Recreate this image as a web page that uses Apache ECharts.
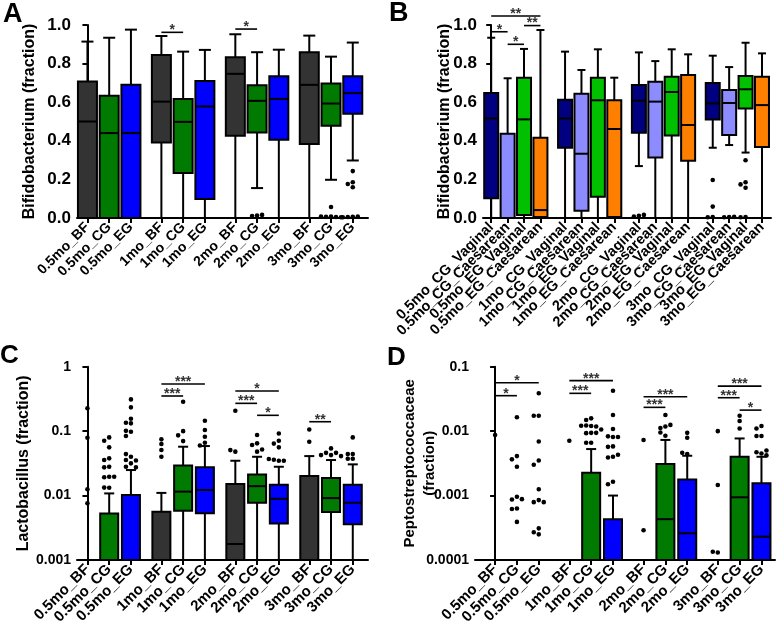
<!DOCTYPE html>
<html><head><meta charset="utf-8">
<script src="https://cdn.jsdelivr.net/npm/echarts@6/dist/echarts.min.js"></script>
<style>html,body{margin:0;padding:0;background:#fff}#c{width:777px;height:626px}</style>
</head><body><div id="c"></div>
<script>
// ---------------- DATA ----------------
const catsABCD = ['0.5mo_BF','0.5mo_CG','0.5mo_EG','1mo_BF','1mo_CG','1mo_EG','2mo_BF','2mo_CG','2mo_EG','3mo_BF','3mo_CG','3mo_EG'];
const catsB = ['0.5mo_CG_Vaginal','0.5mo_CG_Caesarean','0.5mo_EG_Vaginal','0.5mo_EG_Caesarean',
               '1mo_CG_Vaginal','1mo_CG_Caesarean','1mo_EG_Vaginal','1mo_EG_Caesarean',
               '2mo_CG_Vaginal','2mo_CG_Caesarean','2mo_EG_Vaginal','2mo_EG_Caesarean',
               '3mo_CG_Vaginal','3mo_CG_Caesarean','3mo_EG_Vaginal','3mo_EG_Caesarean'];
const ticksAB = [0, 0.2, 0.4, 0.6, 0.8, 1.0];

// box values: [min, Q1, median, Q3, max]
const boxA = [
  [0,0,0.50,0.707,0.914],[0,0,0.44,0.633,0.934],[0,0,0.44,0.69,0.976],
  [0,0.391,0.603,0.845,0.943],[0,0.233,0.498,0.617,0.862],[0,0.098,0.578,0.71,0.871],
  [0,0.426,0.747,0.833,0.952],[0.155,0.443,0.607,0.688,0.859],[0,0.405,0.617,0.734,0.872],
  [0,0.384,0.69,0.859,0.945],[0.198,0.478,0.593,0.697,0.836],[0.298,0.54,0.647,0.734,0.909]
];
const outA = [[],[],[],[],[],[],[],[0.013,0.010,0.016],[],[],
  [0.057,0.008,0.006,0.005,0.007,0.004],[0.243,0.185,0.176,0.159,0.006,0.005,0.007,0.004]];
const sigA = [[3,4,0.962,'*'],[6,7,0.979,'*']];

const boxB = [
  [0,0.102,0.516,0.648,0.934],[0,0,0,0.437,0.724],[0,0.016,0.511,0.727,0.876],[0,0.005,0.041,0.416,0.974],
  [0,0.364,0.516,0.613,0.862],[0,0.038,0.333,0.644,0.767],[0,0.11,0.61,0.727,0.874],[0,0.005,0.461,0.61,0.727],
  [0.269,0.442,0.608,0.689,0.858],[0,0.314,0.603,0.706,0.813],[0,0.427,0.653,0.732,0.874],[0,0.297,0.482,0.741,0.848],
  [0.364,0.511,0.594,0.7,0.841],[0.378,0.43,0.596,0.663,0.782],[0.339,0.568,0.667,0.736,0.908],[0,0.368,0.585,0.732,0.853]
];
const outB = [[],[],[],[],[],[],[],[],[0.012,0.008,0.016],[],[],[],
  [0.197,0.059,0.005,0.004],[0.005,0.004,0.006],[0.299,0.185,0.174,0.157,0.005,0.004],[]];
const sigB = [[0,3,1.047,'**'],[0,1,0.965,'*'],[1,2,0.90,'*'],[2,3,0.997,'**']];

const ticksC = [0.001, 0.01, 0.1, 1];
const boxC = [
  [0,0,0,0,0],[0,0,0,0.00529,0.0108],[0,0,0,0.0102,0.0249],
  [0,0,0,0.0056,0.011],[0,0.0058,0.0115,0.0294,0.0573],[0,0.0053,0.0122,0.0274,0.0587],
  [0,0,0.00177,0.0151,0.0347],[0,0.00774,0.0140,0.0213,0.040],[0,0.0037,0.0089,0.0147,0.028],
  [0,0,0,0.0201,0.041],[0,0.00555,0.00914,0.0187,0.0356],[0,0.0036,0.00774,0.0147,0.0305]
];
const outC = [
  [0.226,0.079,0.0125,0.0076],
  [0.080,0.071,0.056,0.0378,0.0356,0.028,0.0274,0.0196,0.0192,0.0196,0.0132,0.0133],
  [0.311,0.234,0.156,0.132,0.135,0.098,0.084,0.101,0.040,0.044,0.0356,0.035,0.0316,0.028,0.0274],
  [0.0745,0.063,0.051,0.040],[0.286,0.10,0.086,0.070],[0.145,0.104,0.082,0.066,0.060],
  [0.207,0.048,0.0508],[0.087,0.0646,0.0608,0.048,0.052],[0.092,0.071,0.056,0.064,0.0347,0.036,0.0347,0.037],
  [0.106,0.0685],[0.054,0.046,0.046,0.0425,0.0425,0.041],[0.080,0.044,0.044,0.0373,0.0373]
];
const sigC = [[3,5,0.538,'***'],[3,4,0.351,'***'],[6,8,0.42,'*'],[6,7,0.27,'***'],[7,8,0.176,'*'],[9,10,0.14,'**']];

const ticksD = [0.0001, 0.001, 0.01, 0.1];
const boxD = [
  [0,0,0,0,0],[0,0,0,0,0],[0,0,0,0,0],
  [0,0,0,0,0],[0,0,0,0.00226,0.00527],[0,0,0,0.00043,0.001],
  [0,0,0,0,0],[0,0,0.00043,0.00308,0.0073],[0,0,0.00026,0.00178,0.00415],
  [0,0,0,0,0],[0,0,0.00094,0.004,0.0077],[0,0,0.00023,0.00155,0.004]
];
const outD = [
  [0.0087],
  [0.0164,0.0041,0.00365,0.0028,0.00096,0.00087,0.00088,0.00063,0.00062,0.00039],
  [0.0387,0.0173,0.0173,0.0069,0.0035,0.0030,0.00125,0.00085,0.00079,0.00079,0.00031,0.00027,0.00025],
  [0.0071],
  [0.0158,0.0149,0.012,0.0122,0.0118,0.0121,0.0094,0.0093,0.0094,0.0106,0.0066,0.0066],
  [0.0424,0.0178,0.0108,0.0081,0.0083,0.0081,0.0058,0.0057,0.004,0.0039,0.0043,0.00164,0.0015],
  [0.0073,0.00029],
  [0.0178,0.0118,0.0112,0.0125,0.0085,0.0095],
  [0.0094,0.0079,0.0044,0.0046],
  [0.01,0.00146,0.000131,0.000134],
  [0.0173,0.0144,0.011],
  [0.012,0.011,0.0084,0.0084,0.0045,0.0047,0.0042,0.0050]
];
const sigD = [[0,2,0.0565,'*'],[0,1,0.0355,'*'],[3,5,0.0607,'***'],[3,4,0.0386,'***'],
  [6,8,0.0342,'***'],[6,7,0.0234,'***'],[9,11,0.05,'***'],[9,10,0.033,'***'],[10,11,0.0212,'*']];

// ---------------- STYLE / LAYOUT ----------------
const FONT = "'Liberation Sans', Arial, Helvetica, sans-serif";
const colorsABCD = ['#333333', '#007a00', '#0000ff'];
const colorsB = ['#000080', '#8c8cff', '#00c000', '#ff8000'];
const posABCD = catsABCD.map((c, i) => Math.floor(i / 3) * 3.4 + (i % 3));
const posB = catsB.map((c, i) => Math.floor(i / 4) * 4.5 + (i % 4));

function dotOffsets(values, toPx) {
  const placed = []; const steps = [0, -5, 5, -10, 10, -15, 15, -20, 20];
  return values.map(v => {
    const py = toPx(v);
    for (const s of steps) {
      if (placed.every(p => Math.abs(p[1] - py) >= 4.5 || Math.abs(p[0] - s) >= 4.5)) {
        placed.push([s, py]); return s;
      }
    }
    placed.push([0, py]); return 0;
  });
}

function boxRenderer(yMin, bw, cw, colors) {
  return function (params, api) {
    const x = api.value(0);
    const v = [1, 2, 3, 4, 5].map(i => api.value(i));
    const ci = api.value(6);
    const cl = t => (!(t > yMin)) ? yMin : t;
    const Y = t => api.coord([x, cl(t)])[1];
    const cx = api.coord([x, yMin])[0];
    const [mn, q1, md, q3, mx] = v;
    const ls = { stroke: '#000', lineWidth: 2 };
    const ch = [];
    if (mx > yMin && mx > q3) {
      ch.push({ type: 'line', shape: { x1: cx, y1: Y(q3), x2: cx, y2: Y(mx) }, style: ls });
      ch.push({ type: 'line', shape: { x1: cx - cw / 2, y1: Y(mx), x2: cx + cw / 2, y2: Y(mx) }, style: ls });
    }
    if (q1 > yMin) {
      ch.push({ type: 'line', shape: { x1: cx, y1: Y(q1), x2: cx, y2: Y(mn) }, style: ls });
      if (mn > yMin) ch.push({ type: 'line', shape: { x1: cx - cw / 2, y1: Y(mn), x2: cx + cw / 2, y2: Y(mn) }, style: ls });
    }
    if (q3 > yMin) {
      ch.push({ type: 'rect', shape: { x: cx - bw / 2, y: Y(q3), width: bw, height: Y(q1) - Y(q3) },
        style: { fill: colors[ci], stroke: '#000', lineWidth: 2 } });
      if (md > yMin) ch.push({ type: 'line', shape: { x1: cx - bw / 2, y1: Y(md), x2: cx + bw / 2, y2: Y(md) }, style: ls });
    }
    return { type: 'group', children: ch };
  };
}
function dotRenderer(params, api) {
  const p = api.coord([api.value(0), api.value(1)]);
  return { type: 'circle', shape: { cx: p[0] + api.value(2), cy: p[1], r: 2.3 }, style: { fill: '#000' } };
}
function sigRenderer(labels) {
  return function (params, api) {
    const a = api.coord([api.value(0), api.value(2)]);
    const b = api.coord([api.value(1), api.value(2)]);
    return { type: 'group', children: [
      { type: 'line', shape: { x1: a[0], y1: a[1], x2: b[0], y2: a[1] }, style: { stroke: '#000', lineWidth: 1.6 } },
      { type: 'text', style: { x: (a[0] + b[0]) / 2, y: a[1] + 5, text: labels[params.dataIndex], fill: '#333',
        font: 'bold 14px ' + FONT, align: 'center', verticalAlign: 'bottom' } }
    ] };
  };
}

function panelSeries(gi, pos, boxes, outs, sigs, colorsIdx, yMin, bw, cw, toPx) {
  const boxData = boxes.map((b, i) => [pos[i], b[0], b[1], b[2], b[3], b[4], colorsIdx(i)]);
  const dotData = [];
  outs.forEach((arr, i) => {
    const offs = dotOffsets(arr, toPx);
    arr.forEach((v, k) => dotData.push([pos[i], v, offs[k]]));
  });
  const sigData = sigs.map(s => [pos[s[0]], pos[s[1]], s[2]]);
  const sigLabels = sigs.map(s => s[3]);
  return [
    { type: 'custom', xAxisIndex: gi, yAxisIndex: gi, renderItem: boxRenderer(yMin, bw, cw, gi === 1 ? colorsB : colorsABCD),
      data: boxData, encode: { x: 0, y: 4 }, clip: false, silent: true },
    { type: 'custom', xAxisIndex: gi, yAxisIndex: gi, renderItem: dotRenderer, data: dotData,
      encode: { x: 0, y: 1 }, clip: false, silent: true, z: 3 },
    { type: 'custom', xAxisIndex: gi, yAxisIndex: gi, renderItem: sigRenderer(sigLabels), data: sigData,
      encode: { x: 0, y: 2 }, clip: false, silent: true, z: 4 }
  ];
}

// spacer values at both ends of the axis carry a blank label, so ECharts' min/max
// label overlap check never hides a real category label
function xAxis(gi, min, max, pos, labels, fs, rot) {
  return { type: 'value', gridIndex: gi, min, max, splitLine: { show: false },
    axisLine: { onZero: false, lineStyle: { color: '#000', width: 2 } },
    axisTick: { customValues: [min].concat(pos), length: 5, lineStyle: { color: '#000', width: 2 } },
    axisLabel: { customValues: [min].concat(pos, [max]), rotate: rot, margin: 7, color: '#000', fontSize: fs,
      fontWeight: 'bold', fontFamily: FONT, hideOverlap: false,
      formatter: v => { let bi = 0; pos.forEach((p, i) => { if (Math.abs(p - v) < Math.abs(pos[bi] - v)) bi = i; });
        return Math.abs(pos[bi] - v) < 0.05 ? labels[bi] : ' '; } } };
}
function yAxisLin(gi, name, gap) {
  return { type: 'value', gridIndex: gi, min: 0, max: 1, interval: 0.2, splitLine: { show: false },
    axisLine: { show: true, lineStyle: { color: '#000', width: 2 } },
    axisTick: { show: true, length: 5, lineStyle: { color: '#000', width: 2 } },
    axisLabel: { color: '#000', fontSize: 17, fontWeight: 'bold', fontFamily: FONT, margin: 6,
      formatter: v => ticksAB.includes(+v.toFixed(1)) ? v.toFixed(1) : '' },
    name, nameLocation: 'middle', nameGap: gap, nameRotate: 90, nameMoveOverlap: false,
    nameTextStyle: { color: '#000', fontSize: 16, fontWeight: 'bold', fontFamily: FONT } };
}
function yAxisLog(gi, min, max, ticks, name, gap, fs, lh) {
  return { type: 'log', logBase: 10, gridIndex: gi, min, max, splitLine: { show: false },
    axisLine: { show: true, lineStyle: { color: '#000', width: 2 } },
    axisTick: { show: true, length: 5, lineStyle: { color: '#000', width: 2 } },
    minorTick: { show: false },
    axisLabel: { color: '#000', fontSize: 14, fontWeight: 'bold', fontFamily: FONT, margin: 6,
      showMinLabel: true, showMaxLabel: true,
      formatter: v => { const t = ticks.find(k => Math.abs(Math.log10(k) - Math.log10(v)) < 0.01); return t === undefined ? '' : String(t); } },
    name, nameLocation: 'middle', nameGap: gap, nameRotate: 90, nameMoveOverlap: false,
    nameTextStyle: { color: '#000', fontSize: fs, fontWeight: 'bold', fontFamily: FONT, lineHeight: lh } };
}

const pxLin = v => v * 193;
const pxLog = v => Math.log10(v) * 64.4;
const cABCD = i => i % 3;
const cB = i => i % 4;

const option = {
  animation: false,
  backgroundColor: '#fff',
  grid: [
    { left: 77, top: 25, width: 291, height: 193, outerBoundsMode: 'none' },
    { left: 483, top: 25, width: 288, height: 193, outerBoundsMode: 'none' },
    { left: 77, top: 366.7, width: 291, height: 193.3, outerBoundsMode: 'none' },
    { left: 475, top: 366.7, width: 300, height: 193.3, outerBoundsMode: 'none' }
  ],
  xAxis: [
    xAxis(0, -0.48, 12.9, posABCD, catsABCD, 14, 45),
    xAxis(1, -0.5, 17.05, posB, catsB, 14.5, 45),
    xAxis(2, -0.48, 12.9, posABCD, catsABCD, 15, 45),
    xAxis(3, -0.92, 12.82, posABCD, catsABCD, 15, 45)
  ],
  yAxis: [
    yAxisLin(0, 'Bifidobacterium (fraction)', 39),
    yAxisLin(1, 'Bifidobacterium (fraction)', 30),
    yAxisLog(2, 0.001, 1, ticksC, 'Lactobacillus (fraction)', 43, 16, 20),
    yAxisLog(3, 0.0001, 0.1, ticksD, 'Peptostreptococcaceae\n(fraction)', 35, 15, 20)
  ],
  series: [
    ...panelSeries(0, posABCD, boxA, outA, sigA, cABCD, 0, 19, 12, pxLin),
    ...panelSeries(1, posB, boxB, outB, sigB, cB, 0, 14, 8, pxLin),
    ...panelSeries(2, posABCD, boxC, outC, sigC, cABCD, 0.001, 18, 10, pxLog),
    ...panelSeries(3, posABCD, boxD, outD, sigD, cABCD, 0.0001, 18, 10, pxLog)
  ],
  graphic: [
    { type: 'text', left: 3, top: 1, style: { text: 'A', fontSize: 27, fontWeight: 'bold', fontFamily: FONT, fill: '#000' } },
    { type: 'text', left: 389, top: 0, style: { text: 'B', fontSize: 27, fontWeight: 'bold', fontFamily: FONT, fill: '#000' } },
    { type: 'text', left: 0, top: 343, style: { text: 'C', fontSize: 26, fontWeight: 'bold', fontFamily: FONT, fill: '#000' } },
    { type: 'text', left: 387, top: 345, style: { text: 'D', fontSize: 26, fontWeight: 'bold', fontFamily: FONT, fill: '#000' } }
  ]
};
const chart = echarts.init(document.getElementById('c'), null, { renderer: 'canvas' });
chart.setOption(option);
</script></body></html>
